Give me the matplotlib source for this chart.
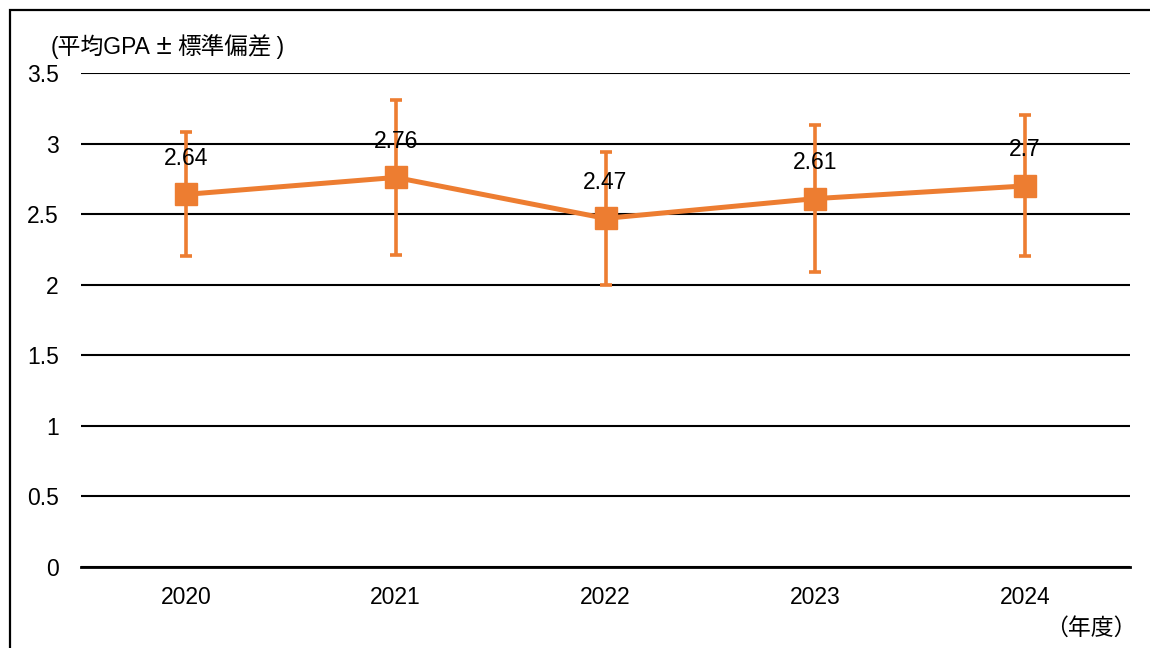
import matplotlib
matplotlib.use("Agg")
import matplotlib.pyplot as plt
import matplotlib.patches as patches
from matplotlib.offsetbox import TextArea, HPacker, AnnotationBbox

plt.rcParams['font.family'] = ['Liberation Sans', 'Noto Sans CJK JP', 'DejaVu Sans']

years = ['2020', '2021', '2022', '2023', '2024']
gpa_mean = [2.64, 2.76, 2.47, 2.61, 2.70]
gpa_sd = [0.44, 0.55, 0.47, 0.52, 0.50]
value_labels = ['2.64', '2.76', '2.47', '2.61', '2.7']
yticks = [0, 0.5, 1, 1.5, 2, 2.5, 3, 3.5]
ytick_labels = ['0', '0.5', '1', '1.5', '2', '2.5', '3', '3.5']

orange = '#ED7D31'
fs = 16.5

fig = plt.figure(figsize=(11.5, 6.48), dpi=100)
ax = fig.add_axes([81/1150, 1 - 567/648, (1130 - 81)/1150, (567 - 73)/648])

x = list(range(len(years)))

ax.errorbar(x, gpa_mean, yerr=gpa_sd, color=orange, lw=3.6, marker='s', ms=16,
            ecolor=orange, elinewidth=2.6, capsize=4.5, capthick=2.6, zorder=3)

for xi, yi, lab in zip(x, gpa_mean, value_labels):
    ax.annotate(lab, (xi, yi), xytext=(0, 26), textcoords='offset points',
                ha='center', va='center', fontsize=fs, color='black', zorder=5)

ax.set_xlim(-0.5, len(years) - 0.5)
ax.set_ylim(0, 3.5)
ax.set_xticks(x)
ax.set_xticklabels(years, fontsize=fs)
ax.set_yticks(yticks)
ax.set_yticklabels(ytick_labels, fontsize=fs)
ax.tick_params(axis='both', length=0)
ax.tick_params(axis='y', pad=16)
ax.tick_params(axis='x', pad=14)

ax.grid(axis='y', color='black', lw=1.5, zorder=1)
for s in ['top', 'right', 'left']:
    ax.spines[s].set_visible(False)
ax.spines['bottom'].set_linewidth(2)
ax.spines['bottom'].set_zorder(2)

# y axis title, the ± sign is full width in the original
latin = dict(fontsize=fs, family=['Liberation Sans', 'Noto Sans CJK JP'])
cjk = dict(fontsize=17, family=['Noto Sans CJK JP', 'Liberation Sans'])
parts = HPacker(children=[TextArea('(平均GPA', textprops=latin),
                          TextArea('\u2009±\u2009', textprops=latin | {'fontsize': 20}),
                          TextArea('標準偏差', textprops=cjk),
                          TextArea('\u2009)', textprops=latin)],
                sep=0, pad=0, align='baseline')
ab = AnnotationBbox(parts, (51/1150, 1 - 47/648), xycoords='figure fraction',
                    box_alignment=(0, 0.5), frameon=False, pad=0)
fig.add_artist(ab)

fig.text(1137/1150, 1 - 628/648, '（年度）', fontsize=fs,
         ha='right', va='center')

# outer frame (left and top edge visible)
fig.patches.append(patches.Rectangle((10/1150, -0.1), 1.2, 1 - 10/648 + 0.1,
                                     transform=fig.transFigure, fill=False,
                                     edgecolor='black', lw=1.6))

fig.savefig('out.png', dpi=100)
